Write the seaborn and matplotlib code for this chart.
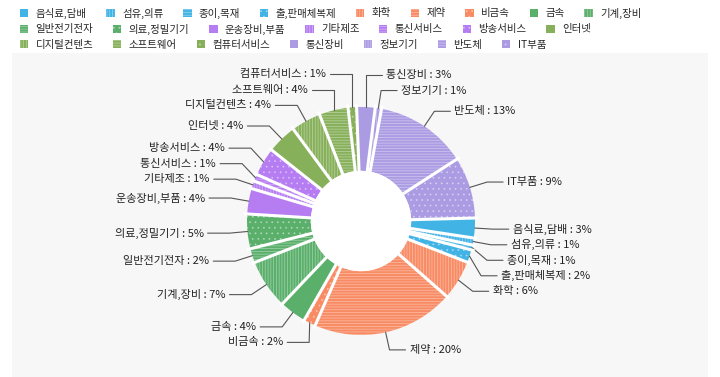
import numpy as np
import matplotlib
matplotlib.use("Agg")
import matplotlib.pyplot as plt
from matplotlib.patches import Patch, Circle, Rectangle
import seaborn as sns

# ---------------------------------------------------------------- data
sectors = ["음식료,담배", "섬유,의류", "종이,목재", "출,판매체복제", "화학", "제약",
           "비금속", "금속", "기계,장비", "일반전기전자", "의료,정밀기기",
           "운송장비,부품", "기타제조", "통신서비스", "방송서비스", "인터넷",
           "디지털컨텐츠", "소프트웨어", "컴퓨터서비스", "통신장비", "정보기기",
           "반도체", "IT부품"]
shares = [2.8, 1.0, 0.7, 1.8, 5.6, 20.1,
          1.7, 3.8, 7.0, 2.0, 4.9,
          3.6, 1.1, 1.0, 4.0, 4.2,
          4.2, 4.1, 1.2, 2.6, 0.9,
          13.0, 8.7]
sector_group = [0, 0, 0, 0, 1, 1, 1, 2, 2, 2, 2, 3, 3, 3, 3,
                4, 4, 4, 4, 5, 5, 5, 5]

# ---------------------------------------------------------------- style
group_colors = ["#42b3e5", "#f88b63", "#5aaf6b", "#b67cf2", "#87b05a", "#ab9be3"]
S, V, H, D = "", "||||||", "------", "..."
fill_pattern = [S, V, H, D, V, H, D, S, V, H, D, S, V, H, D,
                S, V, H, D, S, V, H, D]
legend_rows = [9, 16]          # items where a new legend row starts

sns.set_theme(style="white")
plt.rcParams["font.family"] = ["Noto Sans CJK KR", "DejaVu Sans"]
plt.rcParams["hatch.linewidth"] = 0.6

palette = sns.color_palette(group_colors)
colors = [palette[g] for g in sector_group]
hatch_col = (1, 1, 1, 0.38)

W, HH = 720, 377
PX = 114.0                     # outer radius in pixels
CX, CY = 361, 221              # donut centre in pixels (from top-left)

fig = plt.figure(figsize=(W / 100, HH / 100), dpi=100)
fig.patches.append(Rectangle((12 / W, 0), (708 - 12) / W, (HH - 53) / HH,
                             transform=fig.transFigure, facecolor="#f7f7f7",
                             edgecolor="none", zorder=-5))

ax = fig.add_axes([0, 0, 1, 1])
ax.set_zorder(1)
ax.patch.set_visible(False)

# ---------------------------------------------------------------- donut
START = 1.5
width = 0.56
wedges, _ = ax.pie(shares, colors=colors, startangle=START, counterclock=False,
                   radius=1, wedgeprops=dict(width=width, linewidth=0))
for w, h in zip(wedges, fill_pattern):
    w.set_hatch(h)
    w.set_edgecolor(hatch_col)

frac = np.array(shares) / np.sum(shares)
ends = np.cumsum(frac) * 360 - START
mids = ends - frac * 180

# white separators between slices
for a in np.deg2rad(-ends):
    ax.plot([0.3 * np.cos(a), 1.03 * np.cos(a)], [0.3 * np.sin(a), 1.03 * np.sin(a)],
            color="white", lw=2.2, solid_capstyle="butt", zorder=3)
ax.add_patch(Circle((0, 0), 1 - width, facecolor="white", edgecolor="none", zorder=4))

# ---------------------------------------------------------------- labels
RL = 132 / PX
GAP = 15.5 / PX
PAD = 4 / PX
phi = np.deg2rad(-mids)
ux, uy = np.cos(phi), np.sin(phi)
side = np.where(ux >= 0, 1, -1)
ypos = RL * uy

for s in (1, -1):
    idx = [i for i in range(len(shares)) if side[i] == s]
    up = sorted([i for i in idx if ypos[i] >= 0], key=lambda i: ypos[i])
    for a, b in zip(up[:-1], up[1:]):
        ypos[b] = max(ypos[b], ypos[a] + GAP)
    down = sorted([i for i in idx if ypos[i] < 0], key=lambda i: -ypos[i])
    for a, b in zip(down[:-1], down[1:]):
        ypos[b] = min(ypos[b], ypos[a] - GAP)

for i, name in enumerate(sectors):
    s = side[i]
    ky = ypos[i]
    kx = s * max(np.sqrt(max(RL ** 2 - ky ** 2, 0.0)), abs(ux[i]))
    ex = kx + s * (16 if s > 0 else 22) / PX
    ax.plot([ux[i], kx, ex], [uy[i], ky, ky], color="#555555", lw=0.8, zorder=2)
    ax.text(ex + s * PAD, ky, f"{name} : {shares[i]:.0f}%", fontsize=8,
            color="#222222", ha="left" if s > 0 else "right", va="center")

ax.set_xlim(-CX / PX, (W - CX) / PX)
ax.set_ylim(-(HH - CY) / PX, CY / PX)
ax.set_aspect("auto")
ax.axis("off")

# ---------------------------------------------------------------- legend
handles = [Patch(facecolor=c, hatch=h, edgecolor=hatch_col, linewidth=0, label=n)
           for c, h, n in zip(colors, fill_pattern, sectors)]
bounds = [0] + legend_rows + [len(handles)]
for r, (a, b) in enumerate(zip(bounds[:-1], bounds[1:])):
    fig.legend(handles=handles[a:b], loc="center left", ncol=b - a,
               bbox_to_anchor=(20 / W, 1 - (13 + 16 * r) / HH),
               frameon=False, fontsize=7.5, borderpad=0, borderaxespad=0,
               handlelength=0.8, handleheight=0.8, handletextpad=0.7,
               columnspacing=1.9)

fig.savefig("out.png", dpi=100)
